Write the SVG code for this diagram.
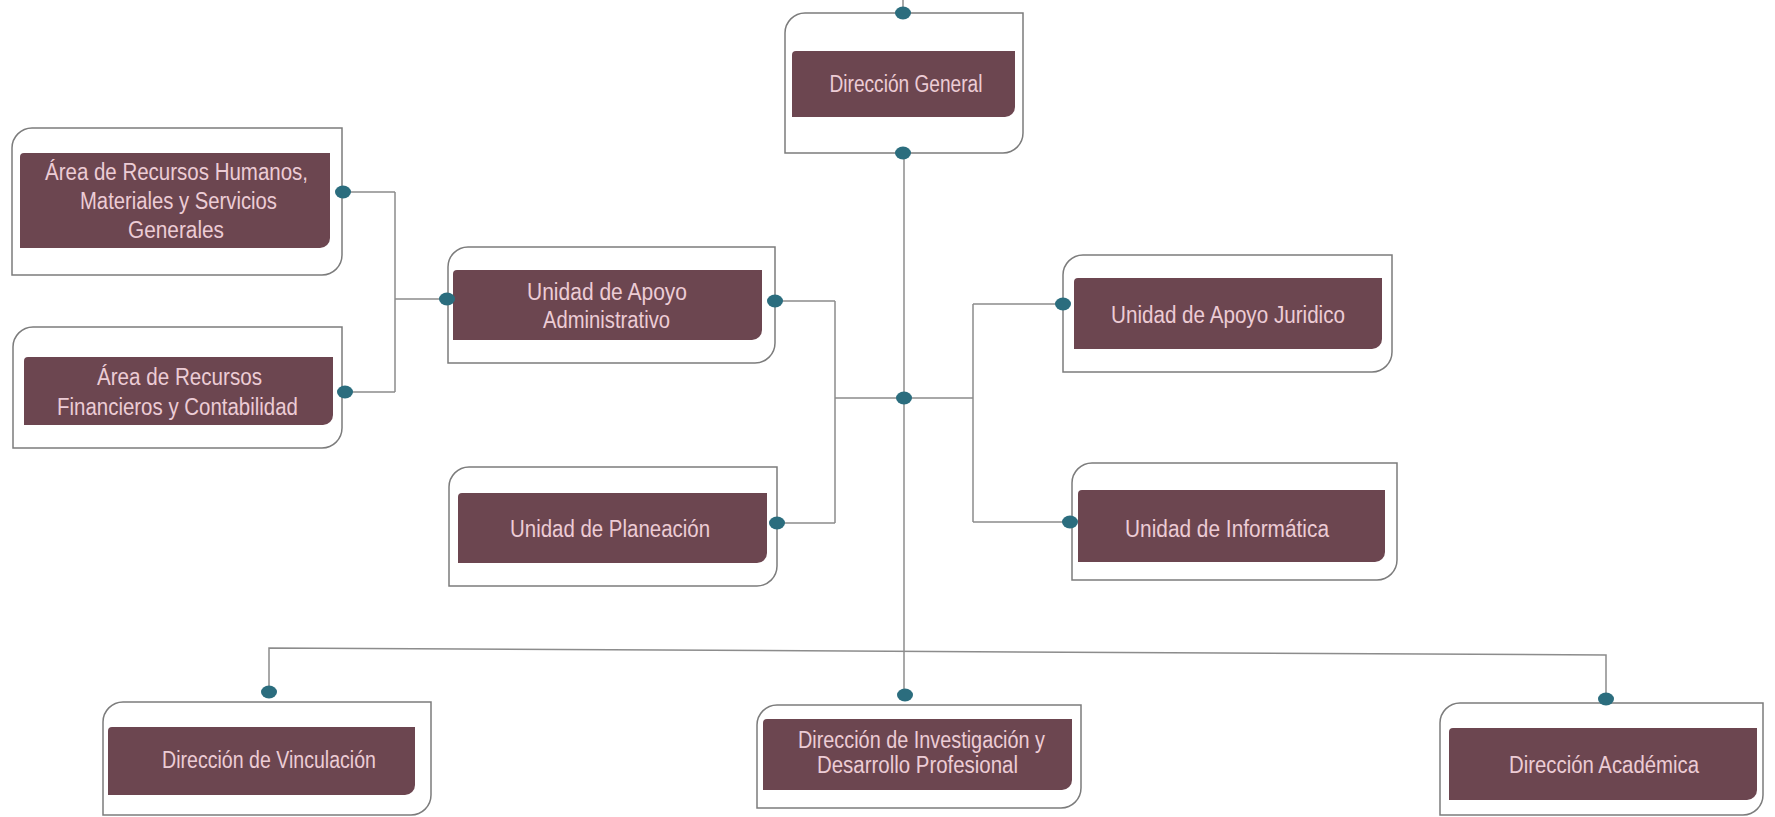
<svg xmlns="http://www.w3.org/2000/svg" width="1775" height="817" viewBox="0 0 1775 817">
<style>
.outer{fill:#ffffff;stroke:#7c7c7c;stroke-width:1.5}
.inner{fill:#6c4650;stroke:none}
.lbl{font-family:"Liberation Sans",Arial,sans-serif;font-size:23px;fill:#ecccd5;text-anchor:middle}
.conn{fill:none;stroke:#8c8c8c;stroke-width:1.5}
.dot{fill:#2b6d7e}
</style>
<rect width="1775" height="817" fill="#ffffff"/>
<g id="connectors">
<path class="conn" d="M903,0 V13"/>
<path class="conn" d="M904,153 V695"/>
<path class="conn" d="M904,398 H835 M835,301 V523 M775,301 H835 M777,523 H835"/>
<path class="conn" d="M447,299 H395 M395,192 V392 M343,192 H395 M345,392 H395"/>
<path class="conn" d="M904,398 H973 M973,304 V522 M973,304 H1063 M973,522 H1070"/>
<path class="conn" d="M269,692 V648 L1606,655 V699"/>
</g>
<g id="n_dg">
<path class="outer" d="M805,13 H1023 V133 A20,20 0 0 1 1003,153 H785 V33 A20,20 0 0 1 805,13 Z"/>
<path class="inner" d="M796,51 H1015 V107 A10,10 0 0 1 1005,117 H792 V55 A4,4 0 0 1 796,51 Z"/>
<text class="lbl" x="906" y="92" textLength="153" lengthAdjust="spacingAndGlyphs">Dirección General</text>
</g>
<g id="n_rh">
<path class="outer" d="M32,128 H342 V255 A20,20 0 0 1 322,275 H12 V148 A20,20 0 0 1 32,128 Z"/>
<path class="inner" d="M24,153 H330 V238 A10,10 0 0 1 320,248 H20 V157 A4,4 0 0 1 24,153 Z"/>
<text class="lbl" x="176.5" y="180" textLength="263" lengthAdjust="spacingAndGlyphs">Área de Recursos Humanos,</text>
<text class="lbl" x="178.5" y="209" textLength="197" lengthAdjust="spacingAndGlyphs">Materiales y Servicios</text>
<text class="lbl" x="176" y="238" textLength="96" lengthAdjust="spacingAndGlyphs">Generales</text>
</g>
<g id="n_rf">
<path class="outer" d="M33,327 H342 V428 A20,20 0 0 1 322,448 H13 V347 A20,20 0 0 1 33,327 Z"/>
<path class="inner" d="M28,357 H333 V415 A10,10 0 0 1 323,425 H24 V361 A4,4 0 0 1 28,357 Z"/>
<text class="lbl" x="179.5" y="385" textLength="165" lengthAdjust="spacingAndGlyphs">Área de Recursos</text>
<text class="lbl" x="177.5" y="415" textLength="241" lengthAdjust="spacingAndGlyphs">Financieros y Contabilidad</text>
</g>
<g id="n_uaa">
<path class="outer" d="M468,247 H775 V343 A20,20 0 0 1 755,363 H448 V267 A20,20 0 0 1 468,247 Z"/>
<path class="inner" d="M457,270 H762 V330 A10,10 0 0 1 752,340 H453 V274 A4,4 0 0 1 457,270 Z"/>
<text class="lbl" x="607" y="300" textLength="160" lengthAdjust="spacingAndGlyphs">Unidad de Apoyo</text>
<text class="lbl" x="606.5" y="328" textLength="127" lengthAdjust="spacingAndGlyphs">Administrativo</text>
</g>
<g id="n_up">
<path class="outer" d="M469,467 H777 V566 A20,20 0 0 1 757,586 H449 V487 A20,20 0 0 1 469,467 Z"/>
<path class="inner" d="M462,493 H767 V553 A10,10 0 0 1 757,563 H458 V497 A4,4 0 0 1 462,493 Z"/>
<text class="lbl" x="610" y="537" textLength="200" lengthAdjust="spacingAndGlyphs">Unidad de Planeación</text>
</g>
<g id="n_uaj">
<path class="outer" d="M1083,255 H1392 V352 A20,20 0 0 1 1372,372 H1063 V275 A20,20 0 0 1 1083,255 Z"/>
<path class="inner" d="M1078,278 H1382 V339 A10,10 0 0 1 1372,349 H1074 V282 A4,4 0 0 1 1078,278 Z"/>
<text class="lbl" x="1228" y="323" textLength="234" lengthAdjust="spacingAndGlyphs">Unidad de Apoyo Juridico</text>
</g>
<g id="n_ui">
<path class="outer" d="M1092,463 H1397 V560 A20,20 0 0 1 1377,580 H1072 V483 A20,20 0 0 1 1092,463 Z"/>
<path class="inner" d="M1082,490 H1385 V552 A10,10 0 0 1 1375,562 H1078 V494 A4,4 0 0 1 1082,490 Z"/>
<text class="lbl" x="1227" y="537" textLength="204" lengthAdjust="spacingAndGlyphs">Unidad de Informática</text>
</g>
<g id="n_dv">
<path class="outer" d="M123,702 H431 V795 A20,20 0 0 1 411,815 H103 V722 A20,20 0 0 1 123,702 Z"/>
<path class="inner" d="M112,727 H415 V785 A10,10 0 0 1 405,795 H108 V731 A4,4 0 0 1 112,727 Z"/>
<text class="lbl" x="269" y="768" textLength="214" lengthAdjust="spacingAndGlyphs">Dirección de Vinculación</text>
</g>
<g id="n_didp">
<path class="outer" d="M777,705 H1081 V788 A20,20 0 0 1 1061,808 H757 V725 A20,20 0 0 1 777,705 Z"/>
<path class="inner" d="M767,719 H1072 V780 A10,10 0 0 1 1062,790 H763 V723 A4,4 0 0 1 767,719 Z"/>
<text class="lbl" x="921.5" y="748" textLength="247" lengthAdjust="spacingAndGlyphs">Dirección de Investigación y</text>
<text class="lbl" x="917.5" y="773" textLength="201" lengthAdjust="spacingAndGlyphs">Desarrollo Profesional</text>
</g>
<g id="n_da">
<path class="outer" d="M1460,703 H1763 V795 A20,20 0 0 1 1743,815 H1440 V723 A20,20 0 0 1 1460,703 Z"/>
<path class="inner" d="M1453,728 H1757 V790 A10,10 0 0 1 1747,800 H1449 V732 A4,4 0 0 1 1453,728 Z"/>
<text class="lbl" x="1604" y="773" textLength="190" lengthAdjust="spacingAndGlyphs">Dirección Académica</text>
</g>
<g id="dots">
<ellipse class="dot" cx="903" cy="13" rx="8" ry="6.5"/>
<ellipse class="dot" cx="903" cy="153" rx="8" ry="6.5"/>
<ellipse class="dot" cx="904" cy="398" rx="8" ry="6.5"/>
<ellipse class="dot" cx="343" cy="192" rx="8" ry="6.5"/>
<ellipse class="dot" cx="345" cy="392" rx="8" ry="6.5"/>
<ellipse class="dot" cx="447" cy="299" rx="8" ry="6.5"/>
<ellipse class="dot" cx="775" cy="301" rx="8" ry="6.5"/>
<ellipse class="dot" cx="777" cy="523" rx="8" ry="6.5"/>
<ellipse class="dot" cx="1063" cy="304" rx="8" ry="6.5"/>
<ellipse class="dot" cx="1070" cy="522" rx="8" ry="6.5"/>
<ellipse class="dot" cx="269" cy="692" rx="8" ry="6.5"/>
<ellipse class="dot" cx="905" cy="695" rx="8" ry="6.5"/>
<ellipse class="dot" cx="1606" cy="699" rx="8" ry="6.5"/>
</g>
</svg>
